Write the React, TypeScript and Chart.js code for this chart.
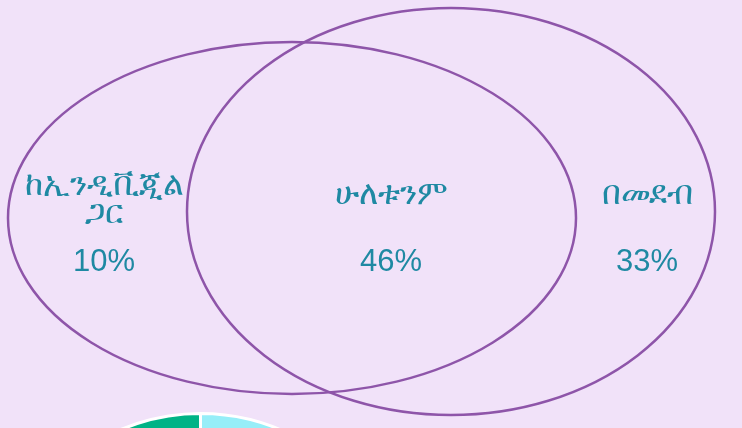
import React, { useEffect, useRef } from "react";
import { Chart, registerables } from "chart.js";

Chart.register(...registerables);

// Venn sets (ellipses, in page units)
const setNames = ["ከኢንዲቪጂል ጋር", "በመደብ"];
const ellipseCX = [292, 451];
const ellipseCY = [218, 211.5];
const ellipseRX = [284, 264];
const ellipseRY = [176, 203.5];

// Region labels
const regionLabels = [["ከኢንዲቪጂል", "ጋር"], ["ሁለቱንም"], ["በመደብ"]];
const regionShares = [10, 46, 33];
const regionX = [104, 391, 647];
const regionY = [200, 195, 195];
const shareY = [262, 262, 262];

// Pie below (only the top is visible)
const pieLabels = ["A", "B", "C", "D"];
const pieValues = [30, 25, 25, 20];
const pieColors = ["#96EEF8", "#F6C344", "#8E55A9", "#00B386"];

const BG = "#F1E2F9";
const STROKE = "#8E55A9";
const TEXT = "#1F89A3";

const vennPlugin = {
  id: "venn",
  afterDatasetsDraw(chart: any) {
    const { ctx, scales } = chart;
    const xs = scales.x;
    const ys = scales.y;
    ctx.save();
    ctx.strokeStyle = STROKE;
    ctx.lineWidth = 2.5;
    for (let i = 0; i < ellipseCX.length; i++) {
      const cx = xs.getPixelForValue(ellipseCX[i]);
      const cy = ys.getPixelForValue(ellipseCY[i]);
      const rx = Math.abs(xs.getPixelForValue(ellipseCX[i] + ellipseRX[i]) - cx);
      const ry = Math.abs(ys.getPixelForValue(ellipseCY[i] + ellipseRY[i]) - cy);
      ctx.beginPath();
      ctx.ellipse(cx, cy, rx, ry, 0, 0, Math.PI * 2);
      ctx.stroke();
    }
    ctx.fillStyle = TEXT;
    ctx.textAlign = "center";
    ctx.textBaseline = "middle";
    const lh = 28;
    for (let i = 0; i < regionLabels.length; i++) {
      const lines = regionLabels[i];
      const x = xs.getPixelForValue(regionX[i]);
      const yc = ys.getPixelForValue(regionY[i]);
      const y0 = yc - ((lines.length - 1) * lh) / 2;
      ctx.font = "33px 'Liberation Sans', Arial, sans-serif";
      lines.forEach((l, k) => ctx.fillText(l, x, y0 + k * lh));
      ctx.font = "31px 'Liberation Sans', Arial, sans-serif";
      ctx.fillText(regionShares[i] + "%", x, ys.getPixelForValue(shareY[i]));
    }
    ctx.restore();
  },
};

export default function App() {
  const vennRef = useRef<HTMLCanvasElement>(null);
  const pieRef = useRef<HTMLCanvasElement>(null);

  useEffect(() => {
    const venn = new Chart(vennRef.current!, {
      type: "scatter",
      data: {
        datasets: [
          {
            label: setNames.join(" / "),
            data: ellipseCX.map((x, i) => ({ x, y: ellipseCY[i] })),
            pointRadius: 0,
            pointHoverRadius: 0,
          },
        ],
      },
      options: {
        responsive: false,
        animation: false,
        events: [],
        layout: { padding: 0 },
        plugins: { legend: { display: false }, tooltip: { enabled: false } },
        scales: {
          x: { type: "linear", min: 0, max: 742, display: false },
          y: { type: "linear", min: 0, max: 428, reverse: true, display: false },
        },
      },
      plugins: [vennPlugin],
    });
    const pie = new Chart(pieRef.current!, {
      type: "pie",
      data: {
        labels: pieLabels,
        datasets: [
          {
            data: pieValues,
            backgroundColor: pieColors,
            borderColor: "#FFFFFF",
            borderWidth: 3,
          },
        ],
      },
      options: {
        responsive: false,
        animation: false,
        events: [],
        layout: { padding: 0 },
        plugins: { legend: { display: false }, tooltip: { enabled: false } },
      },
    });
    return () => {
      venn.destroy();
      pie.destroy();
    };
  }, []);

  return (
    <div
      style={{
        position: "fixed",
        left: 0,
        top: 0,
        width: 742,
        height: 428,
        overflow: "hidden",
        background: BG,
      }}
    >
      <canvas
        ref={pieRef}
        width={413}
        height={413}
        style={{ position: "absolute", left: -6, top: 412, width: 413, height: 413 }}
      />
      <canvas
        ref={vennRef}
        width={742}
        height={428}
        style={{ position: "absolute", left: 0, top: 0, width: 742, height: 428 }}
      />
    </div>
  );
}
